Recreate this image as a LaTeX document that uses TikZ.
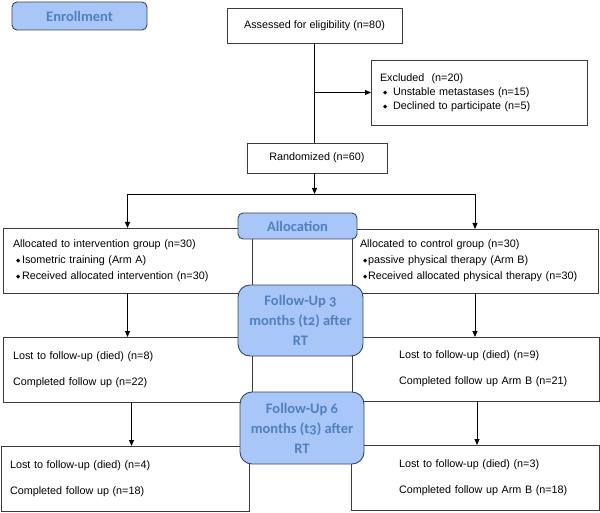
\documentclass[tikz,border=0pt]{standalone}
\usepackage{fontspec}
\setmainfont{Liberation Sans}
\newfontfamily\hdr[Numbers=OldStyle]{Carlito}
\newfontfamily\dej{DejaVu Sans}
\usetikzlibrary{arrows.meta,calc}
\definecolor{hfill}{HTML}{A9C6F9}
\definecolor{htext}{HTML}{4F81BD}
\definecolor{hdraw}{HTML}{3A4660}
\definecolor{bdraw}{HTML}{3C3C3C}
\newcommand\bul[1][10pt]{\makebox[#1][l]{\hspace{3pt}\raisebox{1pt}{\dej\fontsize{5.5}{5.5}\selectfont ◆}}}
\tikzset{
  box/.style={draw=bdraw, line width=0.9pt, fill=white, rectangle, anchor=north west, outer sep=0pt,
    inner ysep=0pt, font=\fontsize{10.8}{14}\selectfont, align=left},
  cbox/.style={draw=bdraw, line width=0.9pt, fill=white, rectangle, anchor=north west, outer sep=0pt,
    inner sep=0pt, font=\fontsize{10.8}{14}\selectfont, align=center},
  hbox/.style={draw=hdraw, line width=0.9pt, fill=hfill, rectangle, rounded corners=#1, outer sep=0pt,
    inner sep=0pt, text=htext, font=\hdr\bfseries\fontsize{14.5}{20}\selectfont, align=center},
  arr/.style={draw=black, line width=0.9pt, -{Triangle[length=6pt,width=5pt]}},
  ln/.style={draw=black, line width=0.9pt}
}
\begin{document}
\begin{tikzpicture}[x=1pt,y=-1pt]
\useasboundingbox (0,0) rectangle (600,513);
% plain boxes
\node[cbox, minimum width=175pt, minimum height=35pt] (assess) at (227,8) {Assessed for eligibility (n=80)};
\node[box, minimum width=216pt, minimum height=65pt, inner xsep=9pt, text width=198pt] (excl) at (371,60)
  {Excluded\ \ (n=20)\\ \bul[13pt]Unstable metastases (n=15)\\ \bul[13pt]Declined to participate (n=5)};
\node[cbox, minimum width=140pt, minimum height=30pt] (rand) at (247,143) {Randomized (n=60)};
\node[box, minimum width=249pt, minimum height=65pt, inner xsep=10pt, text width=229pt] (leftA) at (3,228)
  {Allocated to intervention group (n=30)\\[2pt] \bul[9pt]Isometric training (Arm A)\\[2pt] \bul[9pt]Received allocated intervention (n=30)};
\node[box, minimum width=246pt, minimum height=64pt, inner xsep=8pt, text width=230pt] (rightA) at (352,229)
  {Allocated to control group (n=30)\\[2pt] \bul[8pt]passive physical therapy (Arm B)\\[2pt] \bul[8pt]Received allocated physical therapy (n=30)};
\node[box, minimum width=249pt, minimum height=65pt, inner xsep=10pt, text width=229pt] (leftF3) at (3,337)
  {Lost to follow-up (died) (n=8)\\[12pt] Completed follow up (n=22)};
\node[box, minimum width=247pt, minimum height=64pt, inner xsep=8pt, text width=231pt] (rightF3) at (352,337)
  {\hspace*{39pt}Lost to follow-up (died) (n=9)\\[12pt] \hspace*{39pt}Completed follow up Arm B (n=21)};
\node[box, minimum width=248pt, minimum height=65pt, inner xsep=9pt, text width=230pt] (leftF6) at (1,446)
  {Lost to follow-up (died) (n=4)\\[12pt] Completed follow up (n=18)};
\node[box, minimum width=248pt, minimum height=65pt, inner xsep=8pt, text width=232pt] (rightF6) at (351,445)
  {\hspace*{40pt}Lost to follow-up (died) (n=3)\\[12pt] \hspace*{40pt}Completed follow up Arm B (n=18)};
% blue headers
\node[hbox=5pt, minimum width=135pt, minimum height=28pt] (enroll) at (79.5,16) {Enrollment};
\node[hbox=5pt, minimum width=119pt, minimum height=26pt] (alloc) at (297.5,226) {Allocation};
\node[hbox=12pt, minimum width=125pt, minimum height=71pt] (fu3) at (300.5,320.5) {Follow-Up 3\\months (t2) after\\RT};
\node[hbox=12pt, minimum width=124pt, minimum height=72pt] (fu6) at (302,428) {Follow-Up 6\\months (t3) after\\RT};
% connectors
\coordinate (split) at (314.5,194);
\draw[ln] (assess.south) -- (assess.south |- rand.north);
\draw[arr] (assess.south |- excl.west) -- (excl.west);
\draw[arr] (split |- rand.south) -- (split);
\draw[ln] (split) -- (split -| leftA.north) (split) -- (split -| rightA.north);
\draw[arr] (split -| leftA.north) -- (leftA.north);
\draw[arr] (split -| rightA.north) -- (rightA.north);
\draw[arr] (leftA.south) -- (leftA.south |- leftF3.north);
\draw[arr] (rightA.south) -- (rightA.south |- rightF3.north);
\draw[arr] ([xshift=4pt]leftF3.south) -- ([xshift=4pt]leftF3.south |- leftF6.north);
\draw[arr] ([xshift=1.5pt]rightF3.south) -- ([xshift=1.5pt]rightF3.south |- rightF6.north);
\end{tikzpicture}
\end{document}
